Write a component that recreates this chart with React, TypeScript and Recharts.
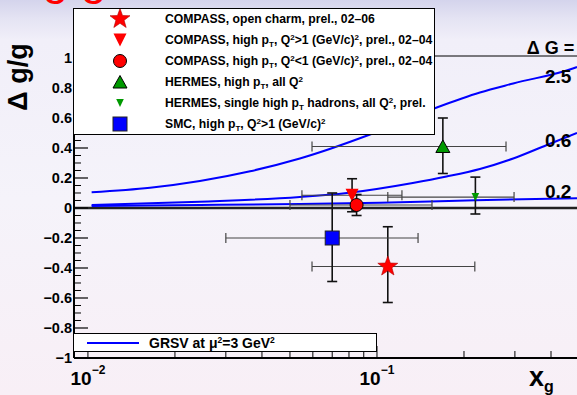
import React from 'react';
import {
  ComposedChart,
  Line,
  Scatter,
  XAxis,
  YAxis,
  ErrorBar,
  ReferenceLine,
  ReferenceDot,
} from 'recharts';

// measurements of the gluon polarisation
const seriesNames = [
  'COMPASS, open charm, prel., 02–06',
  'COMPASS, high p_{T}, Q^{2}>1 (GeV/c)^{2}, prel., 02–04',
  'COMPASS, high p_{T}, Q^{2}<1 (GeV/c)^{2}, prel., 02–04',
  'HERMES, high p_{T}, all Q^{2}',
  'HERMES, single high p_{T} hadrons, all Q^{2}, prel.',
  'SMC, high p_{T}, Q^{2}>1 (GeV/c)^{2}',
];
const seriesMarkers = ['star', 'triDown', 'circle', 'triUp', 'triDownSmall', 'square'];
const seriesColors = ['#ff0000', '#ff0000', '#ff0000', '#009900', '#009900', '#0000ff'];
const xg = [0.109, 0.082, 0.085, 0.169, 0.219, 0.07];
const dgg = [-0.39, 0.085, 0.02, 0.41, 0.073, -0.2];
const dggErrLow = [0.24, 0.11, 0.07, 0.18, 0.113, 0.29];
const dggErrHigh = [0.265, 0.11, 0.07, 0.19, 0.133, 0.3];
const xgLow = [0.0596, 0.055, 0.05, 0.0596, 0.109, 0.03];
const xgHigh = [0.218, 0.122, 0.155, 0.2795, 0.298, 0.1387];

// GRSV curves, Delta G = 2.5 / 0.6 / 0.2
const grsvLabels = ['2.5', '0.6', '0.2'];
const grsv25X = [0.0103, 0.0164, 0.0244, 0.0364, 0.0541, 0.0946, 0.161, 0.227, 0.296, 0.476, 0.492];
const grsv25Y = [0.105, 0.135, 0.18, 0.245, 0.33, 0.49, 0.67, 0.77, 0.83, 0.93, 0.94];
const grsv06X = [0.0103, 0.0244, 0.0541, 0.0787, 0.133, 0.174, 0.227, 0.296, 0.387, 0.492];
const grsv06Y = [0.02, 0.042, 0.073, 0.1, 0.167, 0.21, 0.26, 0.33, 0.42, 0.5];
const grsv02X = [0.0103, 0.0244, 0.0541, 0.1024, 0.141, 0.219, 0.492];
const grsv02Y = [0.013, 0.02, 0.027, 0.035, 0.041, 0.052, 0.065];

const xMajorTicks = [0.01, 0.1];
const xMinorTicks = [0.02, 0.03, 0.04, 0.05, 0.06, 0.07, 0.08, 0.09, 0.2, 0.3, 0.4];
const yMajorTicks = [-1, -0.8, -0.6, -0.4, -0.2, 0, 0.2, 0.4, 0.6, 0.8, 1];
const yAllTicks = Array.from({ length: 41 }, (_, i) => Math.round((-1 + i * 0.05) * 100) / 100);

const X_DOMAIN: [number, number] = [0.00895, 0.492];
const Y_DOMAIN: [number, number] = [-1, 1.0133];

const FONT = '"Liberation Sans", Arial, Helvetica, sans-serif';

const points = xg.map((x, i) => [
  { x, y: dgg[i], ex: [x - xgLow[i], xgHigh[i] - x], ey: [dggErrLow[i], dggErrHigh[i]] },
]);
const toCurve = (xs: number[], ys: number[]) => xs.map((x, i) => ({ x, y: ys[i] }));
const curves = [toCurve(grsv25X, grsv25Y), toCurve(grsv06X, grsv06Y), toCurve(grsv02X, grsv02Y)];

function starPath(cx: number, cy: number, R: number, r: number) {
  const pts: string[] = [];
  for (let k = 0; k < 10; k++) {
    const a = -Math.PI / 2 + (k * Math.PI) / 5;
    const rad = k % 2 === 0 ? R : r;
    pts.push(`${cx + rad * Math.cos(a)},${cy + rad * Math.sin(a)}`);
  }
  return `M${pts.join('L')}Z`;
}

function Marker({ kind, cx, cy, color }: { kind: string; cx: number; cy: number; color: string }) {
  switch (kind) {
    case 'star':
      return <path d={starPath(cx, cy, 10.5, 4.3)} fill={color} stroke="#b00000" strokeWidth={0.6} />;
    case 'triDown':
      return <path d={`M${cx - 6.5},${cy - 6.5}L${cx + 6.5},${cy - 6.5}L${cx},${cy + 6.5}Z`} fill={color} />;
    case 'circle':
      return <circle cx={cx} cy={cy} r={6.5} fill={color} stroke="#000" strokeWidth={1} />;
    case 'triUp':
      return <path d={`M${cx - 7},${cy + 6}L${cx + 7},${cy + 6}L${cx},${cy - 6.5}Z`} fill={color} stroke="#000" strokeWidth={1} />;
    case 'triDownSmall':
      return <path d={`M${cx - 3.8},${cy - 4}L${cx + 3.8},${cy - 4}L${cx},${cy + 4}Z`} fill={color} />;
    default:
      return <rect x={cx - 7} y={cy - 7} width={14} height={14} fill={color} stroke="#222" strokeWidth={1} />;
  }
}

function rich(s: string, sub: number) {
  const out: React.ReactNode[] = [];
  const re = /([_^])\{([^}]*)\}/g;
  let last = 0;
  let m: RegExpExecArray | null;
  let k = 0;
  while ((m = re.exec(s))) {
    if (m.index > last) out.push(s.slice(last, m.index));
    out.push(
      <span key={k++} style={{ fontSize: sub, position: 'relative', top: m[1] === '_' ? 3 : -4 }}>
        {m[2]}
      </span>
    );
    last = re.lastIndex;
  }
  if (last < s.length) out.push(s.slice(last));
  return out;
}

const isMajor = (v: number, step: number) => Math.abs(v / step - Math.round(v / step)) < 1e-6;

const XTick = (p: any) => {
  const v = p.payload.value;
  const major = xMajorTicks.includes(v);
  const e = Math.round(Math.log10(v));
  return (
    <g>
      <line x1={p.x} x2={p.x} y1={p.y} y2={p.y - (major ? 12 : 7)} stroke="#000" strokeWidth={1} />
      {major && (
        <text x={p.x} y={p.y + 27} textAnchor="middle" fontWeight="bold" fontSize={19} fill="#000">
          10
          <tspan dy={-11} fontSize={12}>
            {e < 0 ? '−' : ''}
            {Math.abs(e)}
          </tspan>
        </text>
      )}
    </g>
  );
};

const fmtY = (v: number) => (v < 0 ? '−' : '') + String(Math.abs(v));

const YTick = (p: any) => {
  const v = p.payload.value;
  const major = isMajor(v, 0.2);
  return (
    <g>
      <line x1={p.x} x2={p.x + (major ? 14 : 7)} y1={p.y} y2={p.y} stroke="#000" strokeWidth={major ? 1.2 : 1} />
      {major && (
        <text x={p.x - 2} y={p.y} dy="0.36em" textAnchor="end" fontWeight="bold" fontSize={14.5} fill="#000">
          {fmtY(v)}
        </text>
      )}
    </g>
  );
};

const annot = (text: string, size: number) => (p: any) => (
  <text x={p.viewBox.x} y={p.viewBox.y} fontSize={size} fontWeight="bold" fill="#000">
    {text}
  </text>
);

const curveLabelAnchors = [
  { x: 0.381, y: 0.833 },
  { x: 0.381, y: 0.407 },
  { x: 0.381, y: 0.067 },
];

export default function App() {
  return (
    <div
      style={{
        position: 'fixed',
        left: 0,
        top: 0,
        width: 577,
        height: 395,
        overflow: 'hidden',
        fontFamily: FONT,
        background:
          'linear-gradient(to bottom, #d4d4ec 0px, #e4e3f3 18px, #f1eff9 40px, #f5f3fa 200px, #f8eff6 395px)',
      }}
    >
      <div style={{ position: 'absolute', left: 0, top: 0 }}>
        <ComposedChart width={577} height={395} margin={{ top: 56, right: 0, left: 73, bottom: 36 }}>
          <XAxis
            type="number"
            dataKey="x"
            scale="log"
            domain={X_DOMAIN}
            allowDataOverflow
            ticks={[...xMajorTicks, ...xMinorTicks]}
            interval={0}
            height={1}
            tickSize={0}
            tickMargin={0}
            axisLine={{ stroke: '#000', strokeWidth: 2 }}
            tickLine={false}
            tick={<XTick />}
          />
          <YAxis
            type="number"
            dataKey="y"
            domain={Y_DOMAIN}
            allowDataOverflow
            ticks={yAllTicks}
            interval={0}
            width={1}
            tickSize={0}
            tickMargin={0}
            axisLine={{ stroke: '#000', strokeWidth: 2 }}
            tickLine={false}
            tick={<YTick />}
          />
          <ReferenceLine y={Y_DOMAIN[1]} stroke="#000" strokeWidth={1} />
          <ReferenceLine y={0} stroke="#222" strokeWidth={2.5} />
          {curves.map((c, i) => (
            <Line
              key={grsvLabels[i]}
              data={c}
              dataKey="y"
              type="monotone"
              stroke="#0000ff"
              strokeWidth={2}
              dot={false}
              isAnimationActive={false}
            />
          ))}
          {points.map((d, i) => (
            <Scatter
              key={seriesNames[i]}
              data={d}
              dataKey="y"
              isAnimationActive={false}
              shape={(p: any) => <Marker kind={seriesMarkers[i]} cx={p.cx} cy={p.cy} color={seriesColors[i]} />}
            >
              <ErrorBar dataKey="ex" direction="x" width={5} stroke="#444" strokeWidth={1.2} />
              <ErrorBar dataKey="ey" direction="y" width={5} stroke="#111" strokeWidth={1.6} />
            </Scatter>
          ))}
          {curveLabelAnchors.map((a, i) => (
            <ReferenceDot
              key={`lbl${i}`}
              x={a.x}
              y={a.y}
              r={0}
              ifOverflow="visible"
              fill="none"
              stroke="none"
              label={annot(grsvLabels[i], 19)}
            />
          ))}
          <ReferenceDot x={0.33} y={1.027} r={0} ifOverflow="visible" fill="none" stroke="none" label={annot('Δ G =', 18)} />
        </ComposedChart>
      </div>

      <svg width={577} height={395} style={{ position: 'absolute', left: 0, top: 0, pointerEvents: 'none' }}>
        <text x={12} y={-6} fontSize={46} fill="#ff0000">
          Δg/g
        </text>
        <text
          transform="translate(27,77) rotate(-90)"
          textAnchor="middle"
          fontSize={27}
          fontWeight="bold"
          fill="#000"
        >
          Δ g/g
        </text>
        <text x={529} y={386} fontSize={27} fontWeight="bold" fill="#000">
          x
          <tspan dy={6} fontSize={16}>
            g
          </tspan>
        </text>
      </svg>

      {/* data legend */}
      <div
        style={{
          position: 'absolute',
          left: 73,
          top: 8,
          width: 362,
          height: 127,
          boxSizing: 'border-box',
          background: '#fff',
          border: '1px solid #000',
        }}
      >
        <svg width={80} height={125} style={{ position: 'absolute', left: 0, top: 0 }}>
          {seriesNames.map((n, i) => (
            <Marker key={n} kind={seriesMarkers[i]} cx={46} cy={10 + i * 21} color={seriesColors[i]} />
          ))}
        </svg>
        {seriesNames.map((n, i) => (
          <div
            key={n}
            style={{
              position: 'absolute',
              left: 91,
              top: 10 + i * 21 - 8,
              height: 16,
              lineHeight: '16px',
              fontSize: 12.2,
              fontWeight: 'bold',
              whiteSpace: 'nowrap',
              color: '#000',
            }}
          >
            {rich(n, 8)}
          </div>
        ))}
      </div>

      {/* model legend */}
      <div
        style={{
          position: 'absolute',
          left: 73,
          top: 333,
          width: 304,
          height: 19,
          boxSizing: 'border-box',
          background: '#fff',
          border: '1px solid #000',
        }}
      >
        <div style={{ position: 'absolute', left: 13, top: 8, width: 52, height: 2, background: '#0000ff' }} />
        <div
          style={{
            position: 'absolute',
            left: 75,
            top: 0,
            height: 18,
            lineHeight: '18px',
            fontSize: 14,
            fontWeight: 'bold',
            whiteSpace: 'nowrap',
          }}
        >
          GRSV at μ<span style={{ fontSize: 8.5, position: 'relative', top: -5 }}>2</span>=3 GeV
          <span style={{ fontSize: 8.5, position: 'relative', top: -5 }}>2</span>
        </div>
      </div>
    </div>
  );
}
